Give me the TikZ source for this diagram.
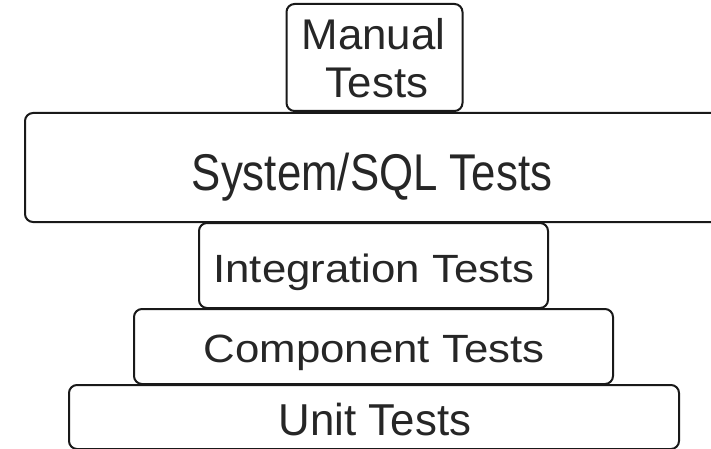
\documentclass[tikz,border=0pt]{standalone}
\usepackage{fontspec}
\setmainfont{Liberation Sans}
\newcommand{\lbl}[2]{\scalebox{1}[#1]{#2}}
\begin{document}
\begin{tikzpicture}[x=1pt,y=-1pt,
  layer/.style={draw=black!90, line width=2pt, rounded corners=8pt,
    inner sep=0pt, outer sep=0pt},
  caption/.style={anchor=base, inner sep=0pt, text=black!85,
    font=\fontsize{43.8}{52}\selectfont},
]
\useasboundingbox (0,0) rectangle (711,449);
\clip (0,0) rectangle (711,449);
\fill[white] (0,0) rectangle (711,449);
% pyramid of test layers, top to bottom
\node[layer, minimum width=176pt, minimum height=107pt] (manual) at (374.5,57.5) {};
\node[layer, minimum width=700pt, minimum height=109pt] (system) at (375,167.5) {};
\node[layer, minimum width=349pt, minimum height=85pt] (integration) at (373.5,265.5) {};
\node[layer, minimum width=479pt, minimum height=75pt] (component) at (373.5,346.5) {};
\node[layer, minimum width=610pt, minimum height=64pt] (unit) at (374,417) {};
% captions
\node[caption] (manualA) at (373.5,50) {\lbl{0.98}{Manual}};
\node[caption] (manualB) at (377,98) {\lbl{0.98}{Tests}};
\node[caption] (systemT) at (372,190) {\lbl{1.18}{System/SQL Tests}};
\node[caption] (integrationT) at (374,282) {\lbl{0.9}{Integration Tests}};
\node[caption] (componentT) at (374,362) {\lbl{0.9}{Component Tests}};
\node[caption] (unitT) at (375,435) {\lbl{1.02}{Unit Tests}};
\end{tikzpicture}
\end{document}
